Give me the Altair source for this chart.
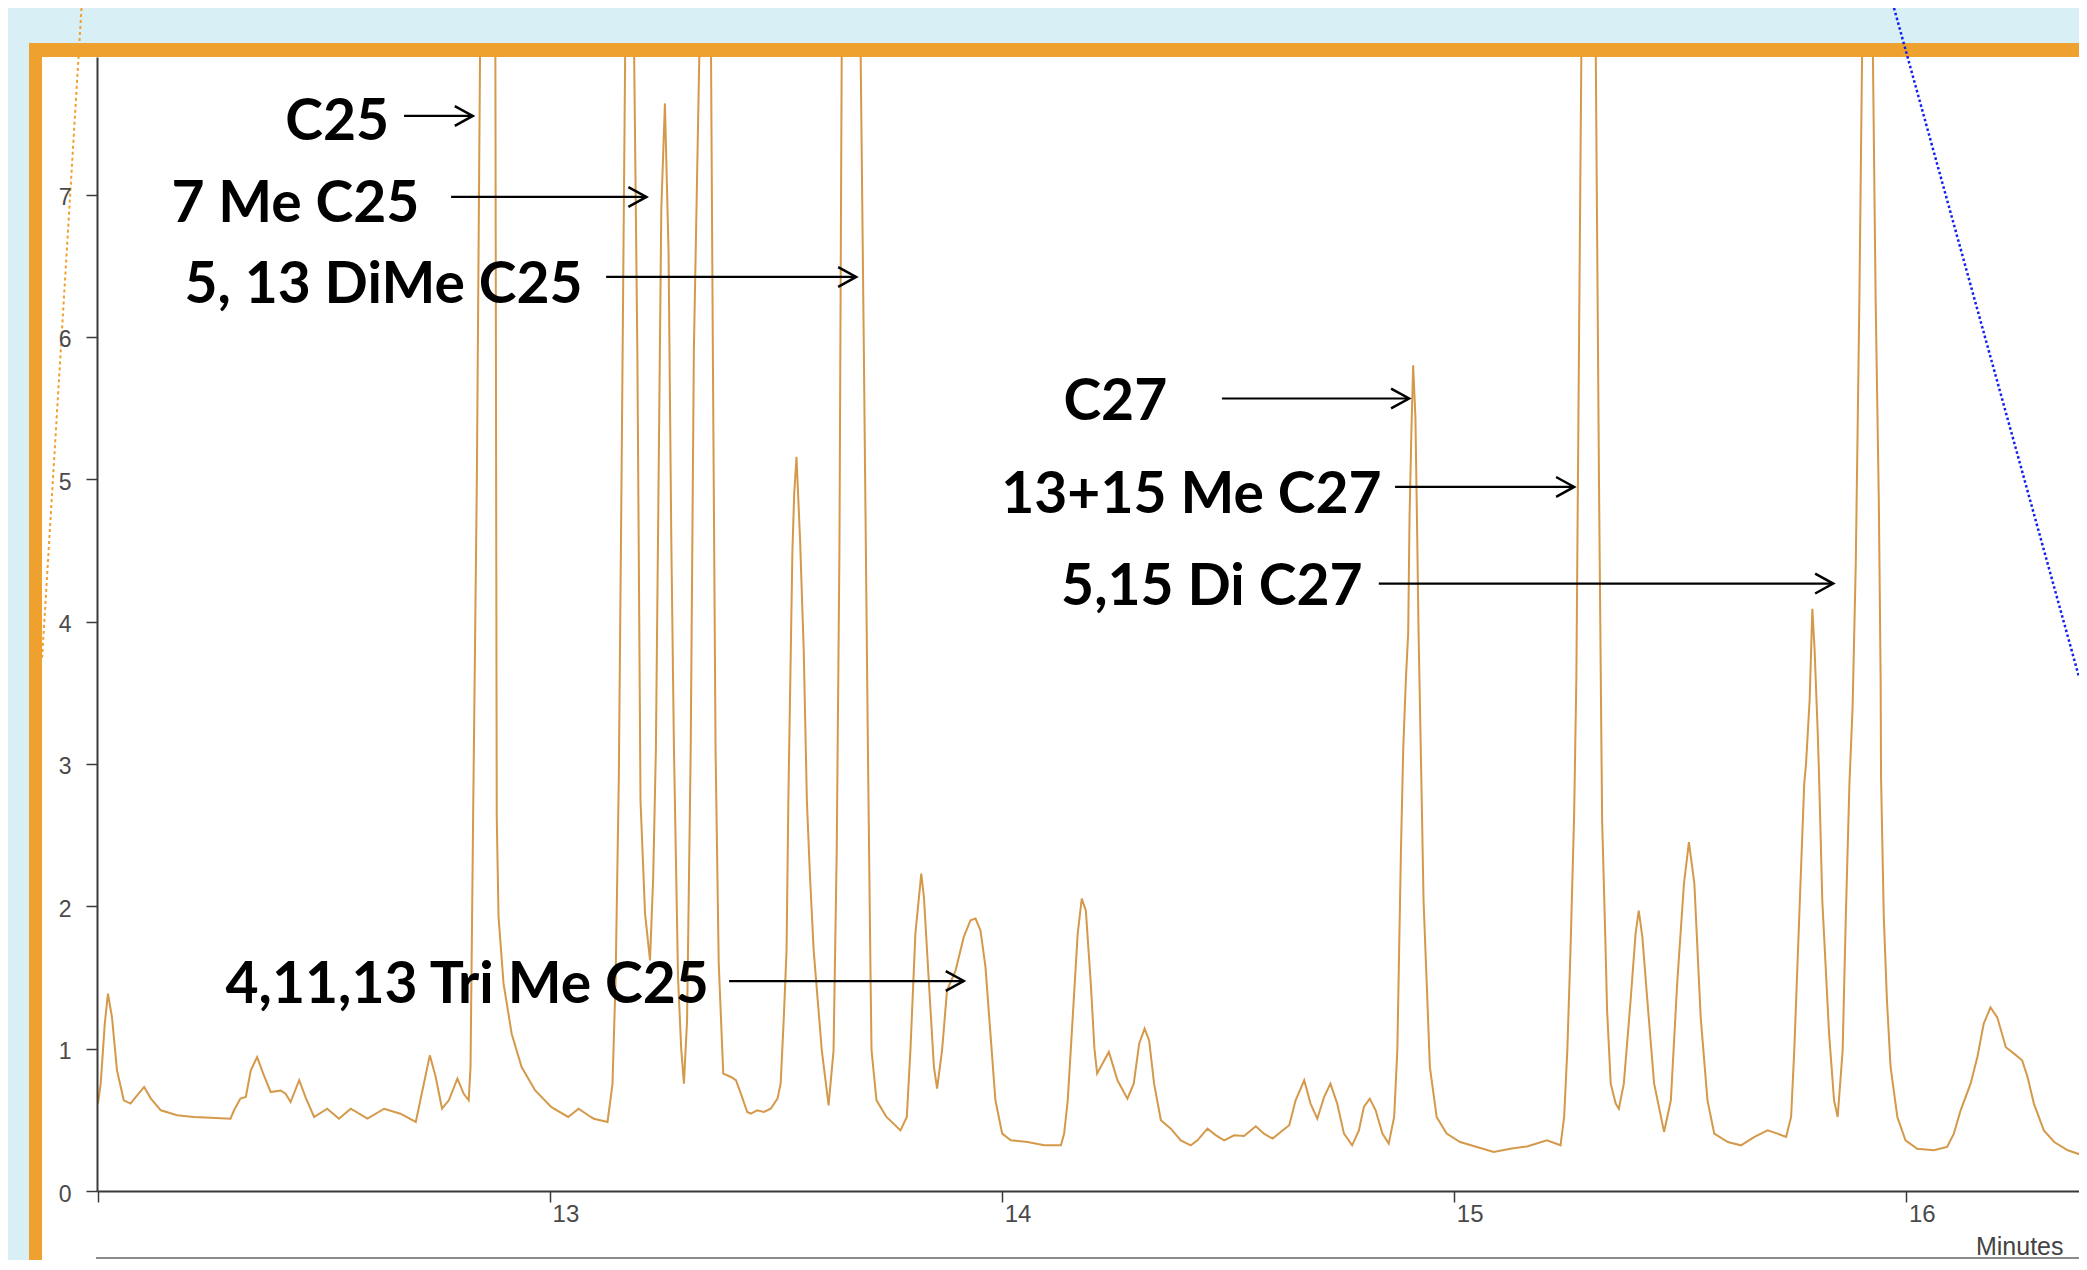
import altair as alt
import pandas as pd

# ---- chromatogram trace (minutes, signal) ----
times = [
    12.000, 12.006, 12.015, 12.022, 12.031, 12.042, 12.057, 12.072, 12.087, 12.102,
    12.117, 12.139, 12.175, 12.212, 12.249, 12.293, 12.301, 12.315, 12.327, 12.338,
    12.352, 12.367, 12.382, 12.404, 12.415, 12.426, 12.445, 12.459, 12.478, 12.507,
    12.533, 12.559, 12.596, 12.633, 12.669, 12.703, 12.713, 12.734, 12.747, 12.761,
    12.776, 12.795, 12.809, 12.820, 12.824, 12.830, 12.838, 12.845, 12.862, 12.879,
    12.882, 12.886, 12.897, 12.915, 12.937, 12.967, 13.003, 13.040, 13.063, 13.090,
    13.097, 13.127, 13.138, 13.145, 13.152, 13.158, 13.166, 13.176, 13.186, 13.193,
    13.200, 13.210, 13.221, 13.228, 13.234, 13.240, 13.246, 13.254, 13.262, 13.268,
    13.274, 13.283, 13.290, 13.296, 13.303, 13.311, 13.318, 13.330, 13.343, 13.356,
    13.360, 13.366, 13.373, 13.383, 13.400, 13.411, 13.422, 13.436, 13.444, 13.458,
    13.473, 13.488, 13.503, 13.510, 13.517, 13.523, 13.527, 13.536, 13.540, 13.545,
    13.553, 13.561, 13.568, 13.575, 13.583, 13.601, 13.616, 13.627, 13.634, 13.640,
    13.645, 13.665, 13.687, 13.694, 13.703, 13.709, 13.711, 13.722, 13.744, 13.775,
    13.789, 13.797, 13.808, 13.821, 13.827, 13.838, 13.849, 13.856, 13.867, 13.878,
    13.897, 13.915, 13.930, 13.941, 13.952, 13.963, 13.974, 13.985, 14.000, 14.019,
    14.056, 14.093, 14.130, 14.137, 14.145, 14.156, 14.167, 14.176, 14.185, 14.196,
    14.204, 14.210, 14.236, 14.255, 14.277, 14.291, 14.303, 14.315, 14.325, 14.336,
    14.351, 14.373, 14.395, 14.417, 14.432, 14.454, 14.473, 14.491, 14.513, 14.535,
    14.561, 14.579, 14.598, 14.616, 14.635, 14.649, 14.668, 14.682, 14.697, 14.712,
    14.726, 14.741, 14.756, 14.774, 14.789, 14.800, 14.813, 14.826, 14.841, 14.855,
    14.867, 14.874, 14.878, 14.882, 14.887, 14.893, 14.898, 14.901, 14.905, 14.909,
    14.914, 14.918, 14.921, 14.928, 14.932, 14.939, 14.946, 14.961, 14.983, 15.013,
    15.050, 15.087, 15.124, 15.161, 15.205, 15.235, 15.243, 15.250, 15.257, 15.265,
    15.270, 15.276, 15.281, 15.297, 15.313, 15.320, 15.327, 15.334, 15.338, 15.346,
    15.357, 15.364, 15.375, 15.390, 15.401, 15.408, 15.416, 15.427, 15.442, 15.464,
    15.479, 15.493, 15.508, 15.519, 15.531, 15.545, 15.560, 15.575, 15.605, 15.634,
    15.664, 15.693, 15.715, 15.734, 15.745, 15.752, 15.763, 15.774, 15.778, 15.786,
    15.792, 15.797, 15.804, 15.807, 15.814, 15.829, 15.840, 15.848, 15.859, 15.866,
    15.874, 15.881, 15.888, 15.892, 15.896, 15.902, 15.914, 15.926, 15.932, 15.939,
    15.943, 15.944, 15.950, 15.957, 15.965, 15.980, 15.998, 16.024, 16.061, 16.090,
    16.105, 16.120, 16.142, 16.157, 16.171, 16.186, 16.201, 16.220, 16.238, 16.256,
    16.268, 16.282, 16.304, 16.327, 16.357, 16.400,
]
intensity = [
    0.614, 0.754, 1.176, 1.387, 1.220, 0.848, 0.637, 0.614, 0.673, 0.731,
    0.649, 0.567, 0.532, 0.520, 0.515, 0.508, 0.567, 0.649, 0.660, 0.848,
    0.941, 0.812, 0.695, 0.706, 0.683, 0.625, 0.778, 0.660, 0.520, 0.578,
    0.508, 0.578, 0.508, 0.578, 0.543, 0.485, 0.637, 0.953, 0.801, 0.578,
    0.637, 0.789, 0.683, 0.637, 0.871, 2.700, 5.000, 7.966, 10.50, 7.966,
    2.630, 1.925, 1.458, 1.105, 0.871, 0.706, 0.589, 0.520, 0.578, 0.520,
    0.508, 0.485, 0.750, 1.500, 2.900, 5.000, 7.966, 10.00, 7.966, 5.900,
    2.740, 1.950, 1.620, 2.200, 3.100, 5.000, 6.900, 7.640, 6.600, 4.600,
    3.100, 1.500, 1.000, 0.754, 1.200, 3.100, 5.900, 7.966, 10.00, 7.966,
    5.900, 3.100, 1.600, 0.825, 0.801, 0.778, 0.684, 0.555, 0.543, 0.567,
    0.555, 0.578, 0.649, 0.755, 1.220, 1.690, 2.740, 4.500, 4.900, 5.157,
    4.570, 3.800, 2.740, 2.200, 1.690, 0.988, 0.602, 0.988, 2.390, 4.500,
    7.966, 10.50, 7.966, 5.900, 3.100, 1.460, 0.988, 0.637, 0.520, 0.426,
    0.520, 0.988, 1.808, 2.230, 2.060, 1.458, 0.871, 0.720, 0.988, 1.410,
    1.550, 1.785, 1.902, 1.914, 1.830, 1.574, 1.105, 0.637, 0.403, 0.356,
    0.344, 0.321, 0.321, 0.403, 0.637, 1.220, 1.808, 2.054, 1.970, 1.458,
    1.000, 0.825, 0.977, 0.778, 0.649, 0.754, 1.035, 1.140, 1.058, 0.754,
    0.497, 0.438, 0.356, 0.321, 0.356, 0.438, 0.391, 0.356, 0.391, 0.386,
    0.455, 0.403, 0.368, 0.415, 0.462, 0.637, 0.778, 0.614, 0.508, 0.660,
    0.754, 0.614, 0.403, 0.321, 0.426, 0.590, 0.649, 0.567, 0.403, 0.333,
    0.520, 0.988, 1.690, 2.390, 3.100, 3.600, 3.920, 4.730, 5.320, 5.800,
    5.440, 4.600, 3.920, 2.740, 2.040, 1.460, 0.870, 0.520, 0.403, 0.344,
    0.309, 0.274, 0.297, 0.313, 0.356, 0.321, 0.520, 0.988, 1.690, 2.630,
    3.600, 6.000, 7.966, 11.00, 7.966, 5.000, 2.600, 1.785, 1.270, 0.754,
    0.614, 0.578, 0.754, 1.340, 1.808, 1.970, 1.785, 1.340, 0.754, 0.415,
    0.637, 1.458, 2.160, 2.450, 2.160, 1.220, 0.637, 0.403, 0.344, 0.321,
    0.380, 0.426, 0.403, 0.380, 0.520, 0.988, 1.925, 2.860, 3.000, 3.450,
    4.090, 3.800, 3.210, 2.900, 2.040, 1.105, 0.637, 0.520, 0.988, 1.925,
    2.860, 3.400, 4.400, 5.320, 6.260, 7.966, 10.50, 7.966, 6.260, 4.850,
    3.610, 2.900, 1.925, 1.340, 0.871, 0.520, 0.356, 0.297, 0.286, 0.309,
    0.403, 0.567, 0.754, 0.941, 1.175, 1.290, 1.220, 1.010, 0.965, 0.918,
    0.801, 0.614, 0.426, 0.344, 0.286, 0.239,
]

# ---- peak annotations ----
label_text = ["C25", "7 Me C25", "5, 13 DiMe C25", "C27",
              "13+15 Me C27", "5,15 Di C27", "4,11,13 Tri Me C25"]
label_t = [12.644, 12.711, 13.072, 14.365, 14.839, 14.797, 13.351]
label_v = [7.381, 6.807, 6.236, 5.414, 4.761, 4.115, 1.319]
arrow_t0 = [12.677, 12.781, 13.124, 14.486, 14.869, 14.833, 13.396]
arrow_t1 = [12.829, 13.213, 13.677, 14.900, 15.265, 15.838, 13.915]
arrow_v = [7.552, 6.983, 6.421, 5.567, 4.946, 4.267, 1.475]

x_ticks = [12, 13, 14, 15, 16]
y_ticks = [0, 1, 2, 3, 4, 5, 6, 7]
x_title = "Minutes"

W, H = 1982, 1134
X_DOMAIN = [11.9978, 16.3818]
Y_DOMAIN = [0, 7.966]

trace_df = pd.DataFrame({"t": times, "v": intensity})
label_df = pd.DataFrame({"t": label_t, "v": label_v, "label": label_text})
arrow_df = pd.DataFrame({"t0": arrow_t0, "t1": arrow_t1, "v": arrow_v})

xscale = alt.Scale(domain=X_DOMAIN, nice=False, zero=False)
yscale = alt.Scale(domain=Y_DOMAIN, nice=False, zero=False)

xaxis = alt.Axis(
    values=x_ticks, grid=False, zindex=1,
    labelExpr="datum.value == 12 ? '' : datum.label",
    labelAlign="left", labelBaseline="top", labelOffset=2, labelPadding=0,
    labelFlush=False, labelOverlap=False,
    labelFont="Liberation Sans", labelFontSize=24, labelColor="#4a4a4a",
    tickSize=11, tickWidth=1.5, tickColor="#3a3a3a",
    domainColor="#3a3a3a", domainWidth=2,
    title=x_title, titleX=1966, titleY=63, titleAlign="right",
    titleBaseline="alphabetic", titleFont="Liberation Sans", titleFontSize=25,
    titleFontWeight="normal", titleColor="#444444",
)
yaxis = alt.Axis(
    values=y_ticks, grid=False, zindex=1, title=None,
    labelAlign="right", labelBaseline="middle", labelOffset=3, labelPadding=15,
    labelFlush=False, labelOverlap=False,
    labelFont="Liberation Sans", labelFontSize=23, labelColor="#4a4a4a",
    tickSize=11, tickWidth=1.5, tickColor="#3a3a3a",
    domainColor="#3a3a3a", domainWidth=2,
)

one = alt.Data(values=[{"k": 0}])

frame_orange = alt.Chart(one).mark_rect(color="#EEA12E").encode(
    x=alt.value(-68), x2=alt.value(2100), y=alt.value(-14), y2=alt.value(1300)
)
frame_white = alt.Chart(one).mark_rect(color="#FFFFFF").encode(
    x=alt.value(-55), x2=alt.value(2100), y=alt.value(0), y2=alt.value(1300)
)
bottom_line = alt.Chart(one).mark_rule(color="#8c8c8c", strokeWidth=2).encode(
    x=alt.value(-1), x2=alt.value(2100), y=alt.value(1201)
)

trace = alt.Chart(trace_df).mark_line(
    color="#D4994A", strokeWidth=2, clip=True, interpolate="linear"
).encode(
    x=alt.X("t:Q", scale=xscale, axis=xaxis),
    y=alt.Y("v:Q", scale=yscale, axis=yaxis),
    order=alt.Order("t:Q"),
)

arrows = alt.Chart(arrow_df).mark_rule(color="black", strokeWidth=2.2).encode(
    x=alt.X("t0:Q", scale=xscale, axis=xaxis),
    x2="t1:Q",
    y=alt.Y("v:Q", scale=yscale, axis=yaxis),
)
heads = alt.Chart(arrow_df).mark_point(
    shape="M-1,-0.55L0,0L-1,0.55", filled=False, size=1296,
    color="black", strokeWidth=2.5, opacity=1, strokeJoin="miter",
).encode(
    x=alt.X("t1:Q", scale=xscale, axis=xaxis),
    y=alt.Y("v:Q", scale=yscale, axis=yaxis),
)
labels = alt.Chart(label_df).mark_text(
    align="right", baseline="alphabetic", font="Lato", fontWeight="bold",
    fontSize=57, color="black",
).encode(
    x=alt.X("t:Q", scale=xscale, axis=xaxis),
    y=alt.Y("v:Q", scale=yscale, axis=yaxis),
    text="label:N",
)

dots_orange = alt.Chart(one).mark_rule(
    color="#F0A030", strokeWidth=2, strokeDash=[3, 3]
).encode(x=alt.value(-15.5), y=alt.value(-49), x2=alt.value(-55), y2=alt.value(603))
dots_blue = alt.Chart(one).mark_rule(
    color="#1020F0", strokeWidth=2.5, strokeDash=[2.5, 2.5]
).encode(x=alt.value(1797), y=alt.value(-49), x2=alt.value(1982), y2=alt.value(620))

chart = alt.layer(
    frame_orange, frame_white, bottom_line, trace, arrows, heads, labels,
    dots_orange, dots_blue,
).properties(
    width=W, height=H,
    autosize=alt.AutoSizeParams(type="none"),
    padding={"left": 89, "top": 49, "right": 0, "bottom": 69},
    background="#D8F0F5",
).configure_view(strokeWidth=0)

chart.save("out.html", embed_options={"renderer": "svg", "actions": False})
